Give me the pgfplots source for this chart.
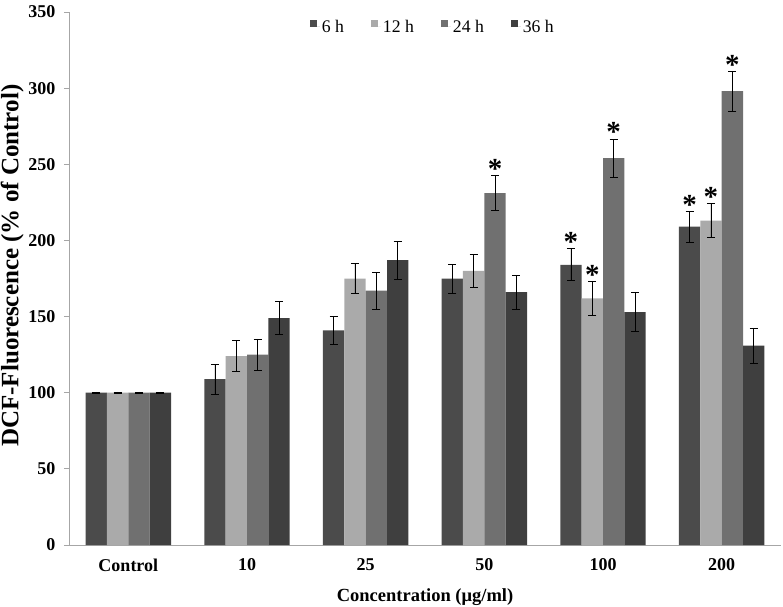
\documentclass[border=0pt]{standalone}
\usepackage{pgfplots}
\usepackage{pgfplotstable}
\pgfplotsset{compat=1.18}
\usepackage{fontspec}
\setmainfont{Liberation Serif}
\definecolor{cA}{HTML}{4B4B4B}
\definecolor{cB}{HTML}{AAAAAA}
\definecolor{cC}{HTML}{707070}
\definecolor{cD}{HTML}{3F3F3F}
\definecolor{axgray}{HTML}{A6A6A6}

\pgfplotstableread{
x y e s
0 100 0.5 {}
1 109 9.8 {}
2 141 9 {}
3 175 9.5 {}
4 184 10.5 *
5 209 10 *
}\tsix
\pgfplotstableread{
x y e s
0 100 0.5 {}
1 124 10.3 {}
2 175 10 {}
3 180 11 {}
4 162 11 *
5 213 11 *
}\ttwelve
\pgfplotstableread{
x y e s
0 100 0.5 {}
1 125 10.3 {}
2 167 12 {}
3 231 11.5 *
4 254 12.5 *
5 298 13 *
}\ttwentyfour
\pgfplotstableread{
x y e s
0 100 0.5 {}
1 149 11 {}
2 187 12.5 {}
3 166 11 {}
4 153 13 {}
5 131 11.5 {}
}\tthirtysix

\begin{document}
\begin{tikzpicture}
\path[use as bounding box] (-69pt,-61pt) rectangle (714pt,545pt);
\begin{axis}[
  at={(0pt,0pt)}, anchor=south west,
  scale only axis, width=712pt, height=533pt,
  ybar=0pt, bar width=0.18,
  xmin=-0.5, xmax=5.5, ymin=0, ymax=350,
  axis x line=bottom, axis y line=left,
  axis line style={axgray, line width=0.8pt, -},
  xtick={0,1,2,3,4,5},
  xticklabels={Control,10,25,50,100,200},
  major x tick style={draw=none},
  extra x ticks={-0.5,0.5,1.5,2.5,3.5,4.5,5.5},
  extra x tick labels={},
  extra x tick style={major tick length=6pt, tick align=outside, tick style={axgray, line width=0.8pt}},
  ytick={0,50,...,350},
  y tick style={axgray, line width=0.8pt},
  tick align=outside, major tick length=5pt,
  /pgf/number format/assume math mode=true,
  ticklabel style={font=\bfseries\fontsize{18}{18}\selectfont, text=black},
  yticklabel style={xshift=-5pt},
  xticklabel style={yshift=-5pt},
  xlabel={\textbf{Concentration (μg/ml)}},
  ylabel={\textbf{DCF-Fluorescence (\% of Control)}},
  xlabel style={font=\fontsize{18.5}{18.5}\selectfont, yshift=0pt},
  ylabel style={font=\fontsize{25}{25}\selectfont, at={(ticklabel cs:0.524)}, yshift=-2pt},
  legend columns=4,
  legend style={draw=none, at={(0.511,0.972)}, anchor=center,
    font=\fontsize{17.7}{17.7}\selectfont,
    /tikz/every even column/.append style={column sep=25pt}},
  legend image code/.code={\path (0pt,0pt) -- (10pt,0pt); \fill[#1] (0pt,-0.5pt) rectangle (7pt,6.5pt);},
  error bars/y dir=both, error bars/y explicit,
  error bars/error bar style={black, line width=0.8pt},
  error bars/error mark options={black, rotate=90, mark size=4pt, line width=0.8pt},
  point meta=explicit symbolic,
  visualization depends on={\thisrow{e} \as \myerr},
  nodes near coords,
  every node near coord/.append style={anchor=south, inner sep=0pt,
    yshift=\myerr*1.523pt - 3pt, font=\bfseries\fontsize{29}{29}\selectfont, text=black},
]
\addplot[fill=cA, draw=none] table[x=x, y=y, y error=e, meta=s] {\tsix};
\addplot[fill=cB, draw=none] table[x=x, y=y, y error=e, meta=s] {\ttwelve};
\addplot[fill=cC, draw=none] table[x=x, y=y, y error=e, meta=s] {\ttwentyfour};
\addplot[fill=cD, draw=none] table[x=x, y=y, y error=e, meta=s] {\tthirtysix};
\legend{6 h, 12 h, 24 h, 36 h}
\end{axis}
\end{tikzpicture}
\end{document}
